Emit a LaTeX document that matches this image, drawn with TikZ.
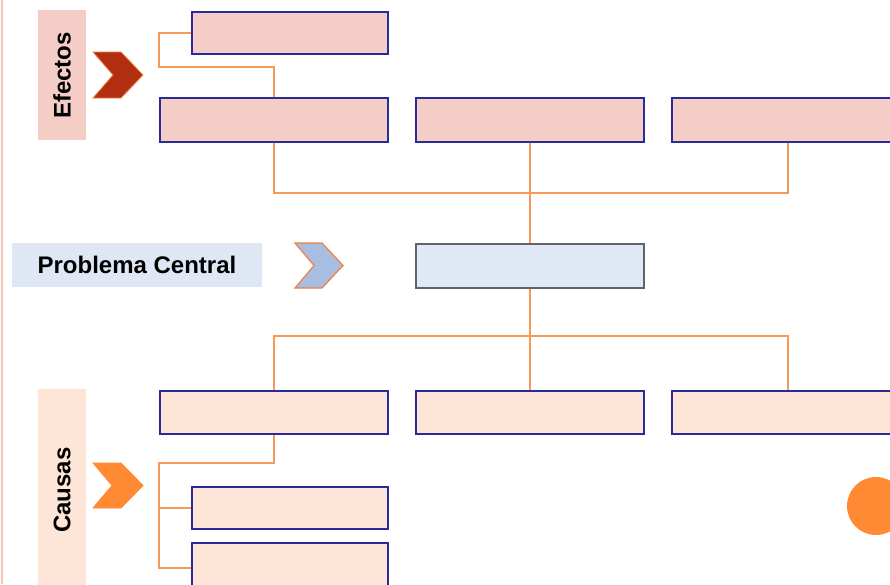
\documentclass[tikz,border=0pt]{standalone}
\usepackage{fontspec}
\setmainfont{Liberation Sans}
\definecolor{effill}{HTML}{F5CDC7}
\definecolor{cafill}{HTML}{FDE5D7}
\definecolor{plfill}{HTML}{DFE7F5}
\definecolor{pbfill}{HTML}{E1E8F5}
\definecolor{pbdraw}{HTML}{5F636B}
\definecolor{navy}{HTML}{2A2A9A}
\definecolor{conn}{HTML}{F79A57}
\definecolor{chred}{HTML}{B22E10}
\definecolor{chorange}{HTML}{FF8A33}
\definecolor{chblue}{HTML}{A8BDE2}
\definecolor{chedge}{HTML}{F08040}
\definecolor{leftline}{HTML}{F9C4B4}
\tikzset{
  ebox/.style={draw=navy,line width=1.6pt,fill=effill,inner sep=0pt,anchor=north west},
  cbox/.style={draw=navy,line width=1.6pt,fill=cafill,inner sep=0pt,anchor=north west},
  wire/.style={draw=conn,line width=1.5pt},
  lbl/.style={inner sep=0pt,anchor=north west},
  lbltext/.style={font=\fontsize{24}{27}\selectfont\bfseries,text=black},
}
\begin{document}
\begin{tikzpicture}[x=1pt,y=-1pt]
\useasboundingbox (0,0) rectangle (890,584);
\clip (0,0) rectangle (890,584);
\fill[white] (0,0) rectangle (890,584);
\draw[leftline,line width=1.5pt] (2,0) -- (2,584);
% labels
\node[lbl,fill=effill,minimum width=48pt,minimum height=130pt] (efl) at (38,10) {};
\node[lbltext,rotate=90] (eft) at (62,75.5) {Efectos};
\node[lbl,fill=cafill,minimum width=48pt,minimum height=200pt] (cal) at (38,389) {};
\node[lbltext,rotate=90] (cat) at (62,490) {Causas};
\node[lbl,fill=plfill,minimum width=250pt,minimum height=44pt] (pl) at (12,243) {};
\node[lbltext] (plt) at (137,265) {Problema Central};
% chevrons
\filldraw[fill=chred,draw=chedge,line width=0.8pt] (93,52) -- (121,52) -- (143,75) -- (121,98) -- (93,98) -- (113,75) -- cycle;
\filldraw[fill=chblue,draw=chedge,line width=1.2pt] (295,243) -- (322,243) -- (343,265.5) -- (322,288) -- (295,288) -- (314,265.5) -- cycle;
\filldraw[fill=chorange,draw=chorange,line width=0.8pt] (93,463) -- (121,463) -- (143,485.5) -- (121,508) -- (93,508) -- (112,485.5) -- cycle;
% effect boxes
\node[ebox,minimum width=196pt,minimum height=42pt] (e0) at (191,11) {};
\node[ebox,minimum width=228pt,minimum height=44pt] (e1) at (159,97) {};
\node[ebox,minimum width=228pt,minimum height=44pt] (e2) at (415,97) {};
\node[ebox,minimum width=232pt,minimum height=44pt] (e3) at (671,97) {};
% problem box
\node[draw=pbdraw,line width=1.6pt,fill=pbfill,inner sep=0pt,anchor=north west,minimum width=228pt,minimum height=44pt] (p) at (415,243) {};
% cause boxes
\node[cbox,minimum width=228pt,minimum height=43pt] (c1) at (159,390) {};
\node[cbox,minimum width=228pt,minimum height=43pt] (c2) at (415,390) {};
\node[cbox,minimum width=232pt,minimum height=43pt] (c3) at (671,390) {};
\node[cbox,minimum width=196pt,minimum height=42pt] (c4) at (191,486) {};
\node[cbox,minimum width=196pt,minimum height=60pt] (c5) at (191,542) {};
% circle
\node[circle,fill=chorange,minimum size=58pt,inner sep=0pt] (dot) at (876,506) {};
% coordinates for connectors
\coordinate (eh) at (0,193);
\coordinate (ch) at (0,336);
\coordinate (e0l) at (159,67);
\coordinate (c1l) at (159,463);
% connectors effects
\draw[wire] (e0.west) -| (e0l) -| (e1.north);
\draw[wire] (e1.south) |- (eh -| e3.south) -- (e3.south);
\draw[wire] (e2.south) -- (p.north);
% connectors causes
\draw[wire] (p.south) -- (c2.north);
\draw[wire] (c1.north) |- (ch -| c3.north) -- (c3.north);
\draw[wire] (c1.south) |- (c1l) |- (c5.west |- 0,568);
\draw[wire] (c1l |- c4.west) -- (c4.west);
\end{tikzpicture}
\end{document}
